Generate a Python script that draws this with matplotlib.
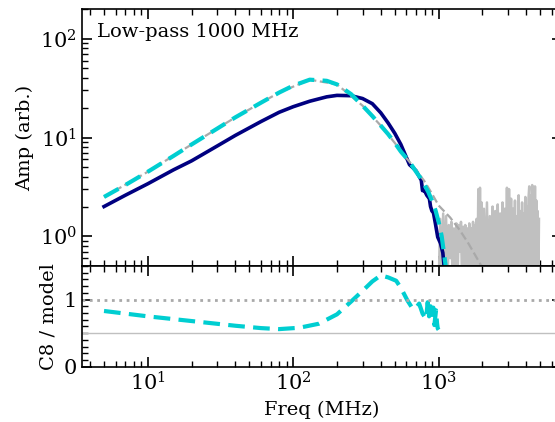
import numpy as np
import matplotlib
matplotlib.use("Agg")
import matplotlib.pyplot as plt
from matplotlib.ticker import MultipleLocator

plt.rcParams['font.family'] = 'DejaVu Serif'
plt.rcParams['mathtext.fontset'] = 'dejavuserif'

# C8 data (navy) and model (cyan)
freq = [5, 7, 10, 15, 20, 30, 40, 60, 80, 100, 130, 170, 200, 250, 300, 350,
        400, 450, 500, 550, 600, 631, 660, 700, 730, 760, 775, 800, 830, 864,
        880, 900, 920, 950, 986, 1030, 1069, 1090, 1100]
c8_amp = [2.0, 2.6, 3.4, 4.7, 5.8, 8.2, 10.5, 14.5, 18.0, 20.5, 23.3, 25.8,
          26.7, 26.5, 24.8, 22.0, 17.8, 14.0, 11.0, 8.5, 6.3, 5.3, 5.0, 4.6,
          4.1, 3.7, 2.9, 2.9, 2.6, 2.4, 2.0, 1.8, 1.75, 1.35, 0.98, 0.85, 0.68,
          0.5, 0.42]

model_freq = [5, 7, 10, 15, 20, 30, 40, 60, 80, 100, 130, 170, 200, 250, 300,
              350, 400, 450, 500, 550, 600, 650, 700, 750, 800, 850, 900, 950,
              1000, 1050, 1100, 1130]
model_amp = [2.5, 3.3, 4.5, 6.5, 8.5, 12.3, 16.0, 22.5, 28.5, 33.5, 38.5, 37.5,
             34.5, 27.5, 21.0, 16.5, 13.2, 10.8, 8.8, 7.2, 6.2, 5.3, 4.5, 3.9,
             3.3, 2.8, 2.3, 1.85, 1.4, 1.0, 0.6, 0.45]

# thin gray reference model
smooth_freq = [5, 10, 20, 40, 80, 130, 200, 300, 400, 500, 600, 700, 800, 900,
               1000, 1200, 1400, 1600, 1800, 2000]
smooth_amp = [2.5, 4.5, 8.5, 16.0, 28.5, 38.5, 34.5, 21.0, 13.2, 8.8, 6.2, 4.7,
              3.6, 2.7, 2.05, 1.55, 1.15, 0.85, 0.63, 0.48]

# out-of-band noise (gray)
noise_freq = [1000, 1025, 1050, 1075, 1100, 1125, 1150, 1175, 1200, 1225, 1250,
              1275, 1300, 1325, 1350, 1375, 1400, 1425, 1450, 1475, 1500, 1525,
              1550, 1575, 1600, 1625, 1650, 1675, 1700, 1725, 1750, 1775, 1800,
              1825, 1850, 1875, 1900, 1925, 1950, 1975, 2000,
              2050, 2100, 2150, 2200, 2250, 2300, 2350, 2400, 2450, 2500, 2550,
              2600, 2650, 2700, 2750, 2800, 2850, 2900, 2950, 3000, 3050, 3100,
              3150, 3200, 3250, 3300, 3350, 3400, 3450, 3500, 3550, 3600, 3650,
              3700, 3750, 3800, 3850, 3900, 3950, 4000, 4050, 4100, 4150, 4200,
              4250, 4300, 4350, 4400, 4450, 4500, 4550, 4600, 4650, 4700, 4750,
              4800, 4850, 4900]
noise_amp = [0.3, 1.5, 0.35, 1.7, 0.4, 1.6, 0.3, 1.3, 0.6, 1.4, 0.3,
             1.2, 0.4, 1.35, 0.35, 1.3, 0.7, 1.4, 0.3, 1.25, 0.4, 1.3,
             0.3, 1.2, 0.5, 1.35, 0.3, 1.2, 0.4, 1.4, 0.3, 1.3, 0.35,
             1.5, 0.4, 3.0, 0.3, 3.1, 0.4, 2.2, 0.3,
             1.9, 0.4, 2.2, 0.3, 1.6, 0.4, 2.0, 0.3, 1.8, 0.4, 2.1,
             0.3, 1.7, 0.4, 2.2, 0.3, 1.9, 0.4, 3.1, 0.3, 3.0, 0.4,
             2.4, 0.3, 1.9, 0.4, 2.3, 0.3, 1.6, 0.4, 2.6, 0.3, 1.8,
             0.4, 2.2, 0.3, 1.7, 0.4, 2.5, 0.3, 2.0, 0.4, 2.4, 3.2,
             0.3, 2.6, 0.4, 3.3, 0.3, 2.9, 0.4, 3.2, 0.3, 2.3, 0.4,
             1.8, 0.3, 1.5]

# ratio panel
ratio_freq = [5, 10, 20, 40, 60, 80, 110, 150, 200, 250, 300, 350, 400, 450,
              511, 540, 567, 611, 665, 700, 735, 776, 820, 841, 860, 880, 900,
              920, 935, 960, 975, 986, 1000]
ratio = [0.83, 0.75, 0.68, 0.61, 0.575, 0.56, 0.58, 0.64, 0.78, 0.97, 1.13,
         1.27, 1.36, 1.33, 1.28, 1.2, 1.12, 0.985, 0.86, 0.88, 0.94, 0.79,
         0.71, 0.96, 0.75, 0.90, 0.72, 0.88, 0.62, 0.84, 0.65, 0.57, 0.55]

fig = plt.figure(figsize=(5.55, 4.22), dpi=100)
ax1 = fig.add_axes([81.5 / 555, 156 / 422, 480 / 555, 257 / 422])
ax2 = fig.add_axes([81.5 / 555, 55.3 / 422, 480 / 555, 100.7 / 422], sharex=ax1)

ax1.plot(noise_freq, noise_amp, color='silver', lw=1.8)
ax1.plot(freq, c8_amp, color='navy', lw=2.6)
ax1.plot(smooth_freq, smooth_amp, color='darkgray', lw=1.6, ls='--')
ax1.plot(model_freq, model_amp, color='darkturquoise', lw=3, ls='--', dashes=(4, 2))
ax1.set_xscale('log')
ax1.set_yscale('log')
ax1.set_xlim(3.5, 7000)
ax1.set_ylim(0.5, 200)
ax1.set_ylabel('Amp (arb.)', fontsize=14)
ax1.text(0.032, 0.91, 'Low-pass 1000 MHz', transform=ax1.transAxes,
         fontsize=14, va='center')
plt.setp(ax1.get_xticklabels(), visible=False)

ax2.plot(ratio_freq, ratio, color='darkturquoise', lw=3, ls='--', dashes=(4, 2))
ax2.axhline(1.0, color='darkgray', lw=2, ls=(0, (1, 1.65)))
ax2.axhline(0.5, color='silver', lw=1)
ax2.set_ylim(0, 1.5)
ax2.yaxis.set_major_locator(MultipleLocator(1))
ax2.yaxis.set_minor_locator(MultipleLocator(0.1))
ax2.set_ylabel('C8 / model', fontsize=14)
ax2.set_xlabel('Freq (MHz)', fontsize=14)

for ax in (ax1, ax2):
    ax.tick_params(which='both', direction='in', top=True, right=True,
                   labelsize=15)
    ax.tick_params(which='major', length=7, width=1.2)
    ax.tick_params(which='minor', length=4, width=1)
    for s in ax.spines.values():
        s.set_linewidth(1.2)

fig.savefig('out.png', dpi=100)
